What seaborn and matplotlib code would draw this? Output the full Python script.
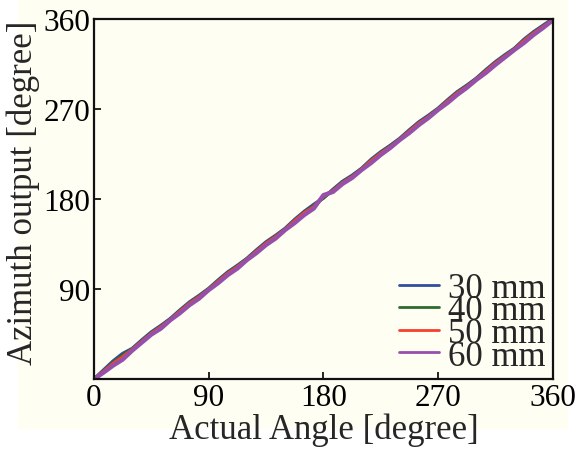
import matplotlib
matplotlib.use("Agg")
import matplotlib.pyplot as plt
from matplotlib.patches import Rectangle
import seaborn as sns
import pandas as pd

angle = [0, 7.5, 15, 22.5, 30, 37.5, 45, 52.5, 60, 67.5, 75, 82.5, 90, 97.5, 105, 112.5,
         120, 127.5, 135, 142.5, 150, 157.5, 165, 172.5, 180, 187.5, 195, 202.5, 210, 217.5,
         225, 232.5, 240, 247.5, 255, 262.5, 270, 277.5, 285, 292.5, 300, 307.5, 315, 322.5,
         330, 337.5, 345, 352.5, 360]

out_30 = [0, 9, 18, 25.5, 30.5, 39, 47, 53.5, 60.5, 69, 77, 83.5, 90.5, 99, 107, 113.5,
          120.5, 129, 137, 143.5, 150.5, 159.5, 167.5, 174.5, 181, 189.5, 197.5, 203.5, 210.5, 219.5,
          227, 233.5, 240.5, 249, 257, 263.5, 270.5, 279, 287, 293.5, 300.5, 309, 317, 324,
          330.5, 339.5, 347, 353.5, 360]
out_40 = [0, 8, 16.5, 23.5, 30, 38, 46, 52.5, 60, 68, 76, 82.5, 90, 98, 106, 112.5,
          120, 128, 136, 142.5, 150, 158.5, 166.5, 173, 182, 188.5, 196.5, 202.5, 210, 218.5,
          226, 232.5, 240, 248, 256, 262.5, 270, 278, 286, 292.5, 300, 308, 316, 323,
          330, 338.5, 346, 352.5, 359.5]
out_50 = [0, 7.5, 15.5, 22, 29.5, 37.5, 45.5, 52, 59.5, 67.5, 75.5, 82, 89.5, 97.5, 105.5, 112,
          119.5, 127.5, 135.5, 142, 149.5, 158, 166, 172, 183, 188, 196, 202, 209.5, 218,
          225.5, 232, 239.5, 247.5, 255.5, 262, 269.5, 277.5, 285.5, 292, 299.5, 307.5, 315.5, 322.5,
          329.5, 338, 345.5, 352, 359]
out_60 = [0, 6.5, 13.5, 19.5, 28.5, 36.5, 44.5, 50.5, 59, 66, 74, 80.5, 89, 96, 104, 110.5,
          119, 126, 134, 140.5, 149, 156, 164, 170.5, 184, 187, 195, 201, 209, 216,
          224, 231, 239, 246, 254, 261, 269, 276, 284, 291, 299, 306, 314, 321.5,
          329, 336, 344, 351, 358.5]

series_labels = ["30 mm", "40 mm", "50 mm", "60 mm"]
colors = ["#2f4f9f", "#2e6b2e", "#f5402e", "#9650ac"]

frames = []
for lab, vals in zip(series_labels, [out_30, out_40, out_50, out_60]):
    frames.append(pd.DataFrame({"angle": angle, "out": vals, "series": lab}))
df = pd.concat(frames, ignore_index=True)

sns.set_style("ticks")
plt.rcParams["font.family"] = ["Liberation Serif", "DejaVu Serif"]

bg = "#fefef3"
fig = plt.figure(figsize=(5.77, 4.52), dpi=100, facecolor="white")
fig.patches.append(Rectangle((0.031, 0.049), 0.953, 0.951, transform=fig.transFigure,
                             facecolor=bg, edgecolor="none", zorder=-10))
ax = fig.add_axes([0.163, 0.159, 0.795, 0.797])
ax.set_facecolor(bg)

sns.lineplot(data=df, x="angle", y="out", hue="series", palette=colors,
             hue_order=series_labels, linewidth=2.6, ax=ax, legend=True)
for ln in ax.lines:
    if ln.get_color() == "#9650ac":
        ln.set_linewidth(3.0)

ax.set_xlim(0, 360)
ax.set_ylim(0, 360)
ax.set_xticks([0, 90, 180, 270, 360])
ax.set_yticks([90, 180, 270, 360])
ax.tick_params(direction="in", length=5, width=1.2, labelsize=22.5, colors="black", pad=3)
for s in ax.spines.values():
    s.set_linewidth(1.6)
    s.set_color("#111111")
ax.set_xlabel("Actual Angle [degree]", fontsize=25, labelpad=0)
ax.set_ylabel("Azimuth output [degree]", fontsize=25, labelpad=2)
ax.yaxis.set_label_coords(-0.118, 0.52)

leg = ax.legend(loc="lower right", frameon=False, fontsize=25, handlelength=1.15,
                handletextpad=0.25, labelspacing=-0.3, borderaxespad=0.1,
                bbox_to_anchor=(1.022, -0.03))
for h in leg.get_lines():
    h.set_linewidth(2.0)

fig.savefig("out.png", dpi=100, facecolor="white")
